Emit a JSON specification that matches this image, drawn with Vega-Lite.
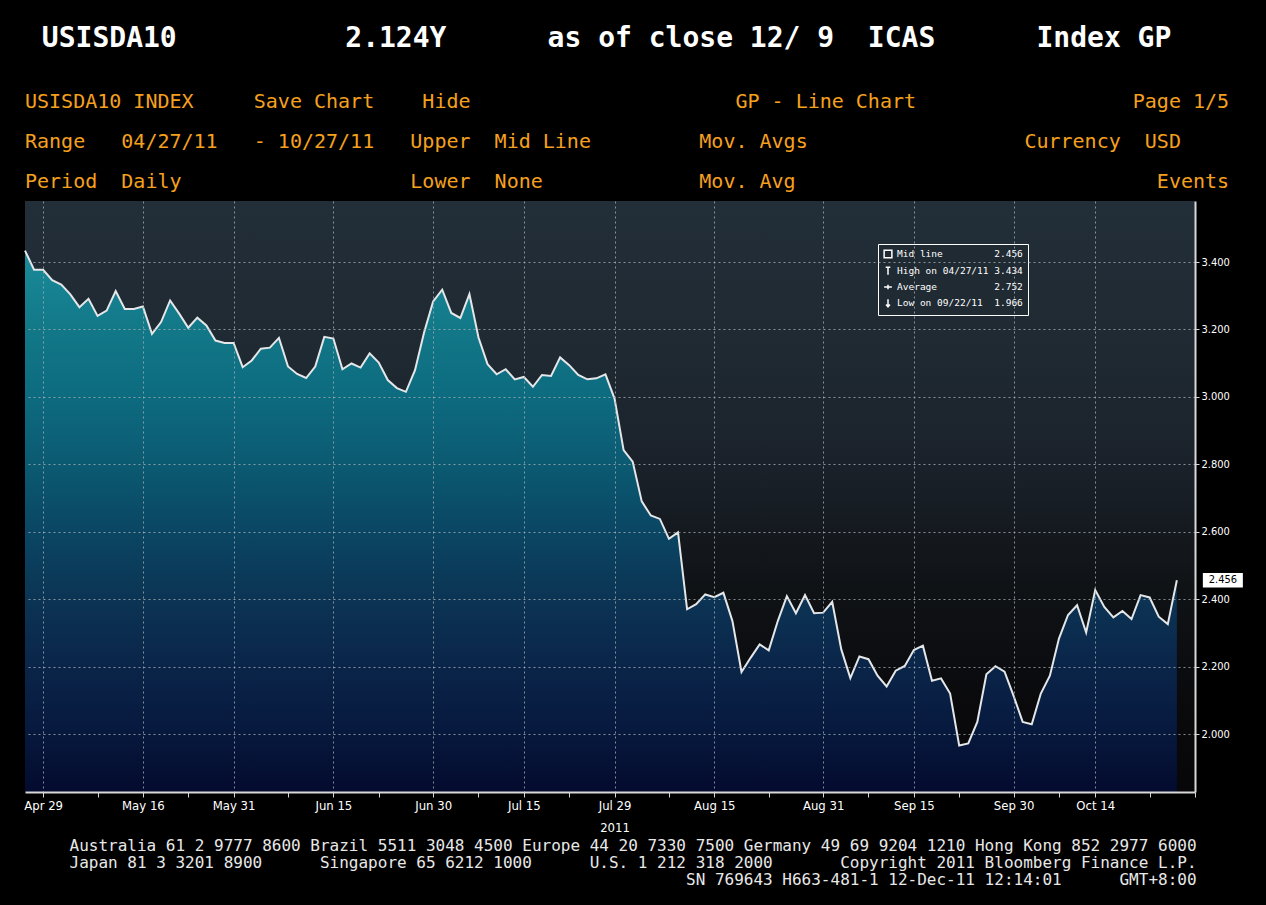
{
  "$schema": "https://vega.github.io/schema/vega-lite/v6.json",
  "autosize": {"type": "none"},
  "width": 1170,
  "height": 591,
  "padding": {"left": 25, "top": 201, "right": 71, "bottom": 113},
  "background": "#000000",
  "title": {
    "text": "\u200b\u00a0USISDA10\u00a0\u00a0\u00a0\u00a0\u00a0\u00a0\u00a0\u00a0\u00a0\u00a02.124Y\u00a0\u00a0\u00a0\u00a0\u00a0\u00a0as of close 12/\u00a09\u00a0\u00a0ICAS\u00a0\u00a0\u00a0\u00a0\u00a0\u00a0Index GP",
    "subtitle": [
      "USISDA10 INDEX\u00a0\u00a0\u00a0\u00a0\u00a0Save Chart\u00a0\u00a0\u00a0\u00a0Hide\u00a0\u00a0\u00a0\u00a0\u00a0\u00a0\u00a0\u00a0\u00a0\u00a0\u00a0\u00a0\u00a0\u00a0\u00a0\u00a0\u00a0\u00a0\u00a0\u00a0\u00a0\u00a0GP - Line Chart\u00a0\u00a0\u00a0\u00a0\u00a0\u00a0\u00a0\u00a0\u00a0\u00a0\u00a0\u00a0\u00a0\u00a0\u00a0\u00a0\u00a0\u00a0Page 1/5",
      "Range\u00a0\u00a0\u00a004/27/11\u00a0\u00a0\u00a0-\u00a010/27/11\u00a0\u00a0\u00a0Upper\u00a0\u00a0Mid Line\u00a0\u00a0\u00a0\u00a0\u00a0\u00a0\u00a0\u00a0\u00a0Mov. Avgs\u00a0\u00a0\u00a0\u00a0\u00a0\u00a0\u00a0\u00a0\u00a0\u00a0\u00a0\u00a0\u00a0\u00a0\u00a0\u00a0\u00a0\u00a0Currency\u00a0\u00a0USD",
      "Period\u00a0\u00a0Daily\u00a0\u00a0\u00a0\u00a0\u00a0\u00a0\u00a0\u00a0\u00a0\u00a0\u00a0\u00a0\u00a0\u00a0\u00a0\u00a0\u00a0\u00a0\u00a0Lower\u00a0\u00a0None\u00a0\u00a0\u00a0\u00a0\u00a0\u00a0\u00a0\u00a0\u00a0\u00a0\u00a0\u00a0\u00a0Mov. Avg\u00a0\u00a0\u00a0\u00a0\u00a0\u00a0\u00a0\u00a0\u00a0\u00a0\u00a0\u00a0\u00a0\u00a0\u00a0\u00a0\u00a0\u00a0\u00a0\u00a0\u00a0\u00a0\u00a0\u00a0\u00a0\u00a0\u00a0\u00a0\u00a0\u00a0Events"
    ],
    "anchor": "start",
    "frame": "group",
    "color": "#ffffff",
    "font": "DejaVu Sans Mono",
    "fontSize": 28,
    "fontWeight": "bold",
    "subtitleColor": "#f5a01e",
    "subtitleFont": "DejaVu Sans Mono",
    "subtitleFontSize": 20,
    "subtitleLineHeight": 40,
    "subtitlePadding": 39,
    "offset": 9
  },
  "data": {
    "values": [
      {"date": "2011-04-27", "value": 3.434},
      {"date": "2011-04-28", "value": 3.377},
      {"date": "2011-04-29", "value": 3.377},
      {"date": "2011-05-02", "value": 3.346},
      {"date": "2011-05-03", "value": 3.333},
      {"date": "2011-05-04", "value": 3.304},
      {"date": "2011-05-05", "value": 3.266},
      {"date": "2011-05-06", "value": 3.291},
      {"date": "2011-05-09", "value": 3.240},
      {"date": "2011-05-10", "value": 3.256},
      {"date": "2011-05-11", "value": 3.314},
      {"date": "2011-05-12", "value": 3.261},
      {"date": "2011-05-13", "value": 3.261},
      {"date": "2011-05-16", "value": 3.268},
      {"date": "2011-05-17", "value": 3.187},
      {"date": "2011-05-18", "value": 3.222},
      {"date": "2011-05-19", "value": 3.286},
      {"date": "2011-05-20", "value": 3.247},
      {"date": "2011-05-23", "value": 3.205},
      {"date": "2011-05-24", "value": 3.235},
      {"date": "2011-05-25", "value": 3.212},
      {"date": "2011-05-26", "value": 3.167},
      {"date": "2011-05-27", "value": 3.160},
      {"date": "2011-05-31", "value": 3.160},
      {"date": "2011-06-01", "value": 3.088},
      {"date": "2011-06-02", "value": 3.108},
      {"date": "2011-06-03", "value": 3.143},
      {"date": "2011-06-06", "value": 3.146},
      {"date": "2011-06-07", "value": 3.175},
      {"date": "2011-06-08", "value": 3.090},
      {"date": "2011-06-09", "value": 3.068},
      {"date": "2011-06-10", "value": 3.056},
      {"date": "2011-06-13", "value": 3.090},
      {"date": "2011-06-14", "value": 3.178},
      {"date": "2011-06-15", "value": 3.173},
      {"date": "2011-06-16", "value": 3.082},
      {"date": "2011-06-17", "value": 3.099},
      {"date": "2011-06-20", "value": 3.087},
      {"date": "2011-06-21", "value": 3.129},
      {"date": "2011-06-22", "value": 3.102},
      {"date": "2011-06-23", "value": 3.050},
      {"date": "2011-06-24", "value": 3.026},
      {"date": "2011-06-27", "value": 3.015},
      {"date": "2011-06-28", "value": 3.079},
      {"date": "2011-06-29", "value": 3.191},
      {"date": "2011-06-30", "value": 3.283},
      {"date": "2011-07-01", "value": 3.318},
      {"date": "2011-07-05", "value": 3.249},
      {"date": "2011-07-06", "value": 3.234},
      {"date": "2011-07-07", "value": 3.305},
      {"date": "2011-07-08", "value": 3.176},
      {"date": "2011-07-11", "value": 3.097},
      {"date": "2011-07-12", "value": 3.067},
      {"date": "2011-07-13", "value": 3.082},
      {"date": "2011-07-14", "value": 3.052},
      {"date": "2011-07-15", "value": 3.059},
      {"date": "2011-07-18", "value": 3.030},
      {"date": "2011-07-19", "value": 3.065},
      {"date": "2011-07-20", "value": 3.062},
      {"date": "2011-07-21", "value": 3.117},
      {"date": "2011-07-22", "value": 3.094},
      {"date": "2011-07-25", "value": 3.065},
      {"date": "2011-07-26", "value": 3.052},
      {"date": "2011-07-27", "value": 3.055},
      {"date": "2011-07-28", "value": 3.067},
      {"date": "2011-07-29", "value": 2.995},
      {"date": "2011-08-01", "value": 2.842},
      {"date": "2011-08-02", "value": 2.808},
      {"date": "2011-08-03", "value": 2.690},
      {"date": "2011-08-04", "value": 2.648},
      {"date": "2011-08-05", "value": 2.638},
      {"date": "2011-08-08", "value": 2.579},
      {"date": "2011-08-09", "value": 2.598},
      {"date": "2011-08-10", "value": 2.370},
      {"date": "2011-08-11", "value": 2.385},
      {"date": "2011-08-12", "value": 2.414},
      {"date": "2011-08-15", "value": 2.406},
      {"date": "2011-08-16", "value": 2.419},
      {"date": "2011-08-17", "value": 2.335},
      {"date": "2011-08-18", "value": 2.184},
      {"date": "2011-08-19", "value": 2.226},
      {"date": "2011-08-22", "value": 2.266},
      {"date": "2011-08-23", "value": 2.248},
      {"date": "2011-08-24", "value": 2.335},
      {"date": "2011-08-25", "value": 2.409},
      {"date": "2011-08-26", "value": 2.358},
      {"date": "2011-08-29", "value": 2.412},
      {"date": "2011-08-30", "value": 2.358},
      {"date": "2011-08-31", "value": 2.360},
      {"date": "2011-09-01", "value": 2.392},
      {"date": "2011-09-02", "value": 2.251},
      {"date": "2011-09-06", "value": 2.166},
      {"date": "2011-09-07", "value": 2.230},
      {"date": "2011-09-08", "value": 2.222},
      {"date": "2011-09-09", "value": 2.173},
      {"date": "2011-09-12", "value": 2.141},
      {"date": "2011-09-13", "value": 2.188},
      {"date": "2011-09-14", "value": 2.202},
      {"date": "2011-09-15", "value": 2.249},
      {"date": "2011-09-16", "value": 2.262},
      {"date": "2011-09-19", "value": 2.158},
      {"date": "2011-09-20", "value": 2.165},
      {"date": "2011-09-21", "value": 2.120},
      {"date": "2011-09-22", "value": 1.966},
      {"date": "2011-09-23", "value": 1.972},
      {"date": "2011-09-26", "value": 2.036},
      {"date": "2011-09-27", "value": 2.177},
      {"date": "2011-09-28", "value": 2.201},
      {"date": "2011-09-29", "value": 2.185},
      {"date": "2011-09-30", "value": 2.113},
      {"date": "2011-10-03", "value": 2.036},
      {"date": "2011-10-04", "value": 2.029},
      {"date": "2011-10-05", "value": 2.120},
      {"date": "2011-10-06", "value": 2.173},
      {"date": "2011-10-07", "value": 2.283},
      {"date": "2011-10-11", "value": 2.353},
      {"date": "2011-10-12", "value": 2.382},
      {"date": "2011-10-13", "value": 2.301},
      {"date": "2011-10-14", "value": 2.427},
      {"date": "2011-10-17", "value": 2.377},
      {"date": "2011-10-18", "value": 2.346},
      {"date": "2011-10-19", "value": 2.365},
      {"date": "2011-10-20", "value": 2.341},
      {"date": "2011-10-21", "value": 2.412},
      {"date": "2011-10-24", "value": 2.405},
      {"date": "2011-10-25", "value": 2.348},
      {"date": "2011-10-26", "value": 2.326},
      {"date": "2011-10-27", "value": 2.456}
    ]
  },
  "layer": [
    {
      "data": {"values": [{}]},
      "mark": {
        "type": "rect",
        "fill": {
          "gradient": "linear", "x1": 0, "y1": 0, "x2": 0, "y2": 1,
          "stops": [
            {"offset": 0, "color": "#222e38"},
            {"offset": 0.27, "color": "#1f2932"},
            {"offset": 0.39, "color": "#1c242d"},
            {"offset": 0.5, "color": "#181e26"},
            {"offset": 0.59, "color": "#13171b"},
            {"offset": 0.65, "color": "#101316"},
            {"offset": 0.73, "color": "#0d0f12"},
            {"offset": 0.85, "color": "#0a0a0d"},
            {"offset": 1, "color": "#07070a"}
          ]
        }
      },
      "encoding": {}
    },
    {
      "mark": {
        "type": "area",
        "interpolate": "linear",
        "fillOpacity": 1,
        "fill": {
          "gradient": "linear", "x1": 0, "y1": 0, "x2": 0, "y2": 1,
          "stops": [
            {"offset": 0, "color": "#1a8b9a"},
            {"offset": 0.146, "color": "#127888"},
            {"offset": 0.271, "color": "#0d6b7f"},
            {"offset": 0.395, "color": "#0b5a72"},
            {"offset": 0.52, "color": "#0a4663"},
            {"offset": 0.644, "color": "#0c3454"},
            {"offset": 0.768, "color": "#0a2549"},
            {"offset": 0.893, "color": "#07183d"},
            {"offset": 1, "color": "#030b2e"}
          ]
        },
        "line": {"color": "#e4e6e8", "strokeWidth": 2}
      },
      "encoding": {
        "x": {
          "field": "date",
          "type": "ordinal",
          "sort": "ascending",
          "scale": {"type": "point", "padding": 0, "domain": {"unionWith": ["2011-10-28", "2011-10-31"]}},
          "axis": {
            "values": ["2011-04-29", "2011-05-09", "2011-05-16", "2011-05-23", "2011-05-31", "2011-06-08", "2011-06-15", "2011-06-22", "2011-06-30", "2011-07-08", "2011-07-15", "2011-07-22", "2011-07-29", "2011-08-08", "2011-08-15", "2011-08-23", "2011-08-31", "2011-09-08", "2011-09-15", "2011-09-22", "2011-09-30", "2011-10-07", "2011-10-14", "2011-10-24", "2011-10-31"],
            "labelExpr": "datum.value == '2011-07-29' ? ['Jul 29', '2011'] : (indexof(['2011-04-29','2011-05-16','2011-05-31','2011-06-15','2011-06-30','2011-07-15','2011-08-15','2011-08-31','2011-09-15','2011-09-30','2011-10-14'], datum.value) >= 0 ? utcFormat(toDate(datum.value), '%b %d') : '')",
            "labelAngle": 0,
            "labelColor": "#ffffff",
            "labelFont": "DejaVu Sans Condensed, Liberation Sans Narrow, Roboto, sans-serif",
            "labelFontSize": 13,
            "labelPadding": 2,
            "labelLineHeight": 22,
            "labelBaseline": "top",
            "tickSize": 5,
            "tickColor": "#d8d8d8",
            "domainColor": "#d8d8d8",
            "domainWidth": 2,
            "grid": true,
            "gridColor": "#a3acb3",
            "gridDash": [2, 3],
            "gridWidth": 1,
            "gridOpacity": {"condition": {"test": "indexof(['2011-04-29','2011-05-16','2011-05-31','2011-06-15','2011-06-30','2011-07-15','2011-07-29','2011-08-15','2011-08-31','2011-09-15','2011-09-30','2011-10-14'], datum.value) >= 0", "value": 0.8}, "value": 0},
            "zindex": 1,
            "title": [
              "Australia 61 2 9777 8600 Brazil 5511 3048 4500 Europe 44 20 7330 7500 Germany 49 69 9204 1210 Hong Kong 852 2977 6000",
              "Japan 81 3 3201 8900\u00a0\u00a0\u00a0\u00a0\u00a0\u00a0Singapore 65 6212 1000\u00a0\u00a0\u00a0\u00a0\u00a0\u00a0U.S. 1 212 318 2000\u00a0\u00a0\u00a0\u00a0\u00a0\u00a0\u00a0Copyright 2011 Bloomberg Finance L.P.",
              "\u200b\u00a0\u00a0\u00a0\u00a0\u00a0\u00a0\u00a0\u00a0\u00a0\u00a0\u00a0\u00a0\u00a0\u00a0\u00a0\u00a0\u00a0\u00a0\u00a0\u00a0\u00a0\u00a0\u00a0\u00a0\u00a0\u00a0\u00a0\u00a0\u00a0\u00a0\u00a0\u00a0\u00a0\u00a0\u00a0\u00a0\u00a0\u00a0\u00a0\u00a0\u00a0\u00a0\u00a0\u00a0\u00a0\u00a0\u00a0\u00a0\u00a0\u00a0\u00a0\u00a0\u00a0\u00a0\u00a0\u00a0\u00a0\u00a0\u00a0\u00a0\u00a0\u00a0\u00a0\u00a0SN 769643 H663-481-1 12-Dec-11 12:14:01\u00a0\u00a0\u00a0\u00a0\u00a0\u00a0GMT+8:00"
            ],
            "titleFont": "DejaVu Sans Mono",
            "titleFontSize": 16,
            "titleFontWeight": "normal",
            "titleColor": "#e8e8e8",
            "titleAnchor": "start",
            "titleAlign": "left",
            "titleBaseline": "top",
            "titleX": 44,
            "titlePadding": 3,
            "titleLineHeight": 17
          }
        },
        "y": {
          "field": "value",
          "type": "quantitative",
          "scale": {"domain": [1.828, 3.581], "zero": false, "nice": false},
          "axis": {
            "orient": "right",
            "values": [2.0, 2.2, 2.4, 2.6, 2.8, 3.0, 3.2, 3.4],
            "format": ".3f",
            "labelOverlap": false,
            "labelColor": "#ffffff",
            "labelFont": "DejaVu Sans Condensed, Liberation Sans Narrow, Roboto, sans-serif",
            "labelFontSize": 11,
            "labelPadding": 2,
            "tickSize": 4,
            "tickColor": "#d8d8d8",
            "domainColor": "#d8d8d8",
            "domainWidth": 2,
            "grid": true,
            "gridColor": "#a3acb3",
            "gridDash": [2, 3],
            "gridWidth": 1,
            "gridOpacity": 0.8,
            "zindex": 1,
            "title": null
          }
        },
        "y2": {"datum": 1.828}
      }
    },
    {
      "transform": [{"filter": "datum.date == '2011-10-27'"}],
      "mark": {"type": "point", "shape": "M-1,-0.36H1V0.36H-1Z", "size": 1600, "filled": true, "color": "#ffffff", "opacity": 1, "xOffset": 46},
      "encoding": {
        "x": {"field": "date", "type": "ordinal"},
        "y": {"field": "value", "type": "quantitative"}
      }
    },
    {
      "transform": [{"filter": "datum.date == '2011-10-27'"}],
      "mark": {"type": "text", "color": "#000000", "fontSize": 11, "font": "DejaVu Sans Condensed, Liberation Sans Narrow, Roboto, sans-serif", "xOffset": 46},
      "encoding": {
        "x": {"field": "date", "type": "ordinal"},
        "y": {"field": "value", "type": "quantitative"},
        "text": {"field": "value", "type": "quantitative", "format": ".3f"}
      }
    },
    {
      "data": {
        "values": [
          {"label": "Mid line\u00a0\u00a0\u00a0\u00a0\u00a0\u00a0\u00a0\u00a0\u00a02.456", "value": 2.456},
          {"label": "High on 04/27/11\u00a03.434", "value": 3.434},
          {"label": "Average\u00a0\u00a0\u00a0\u00a0\u00a0\u00a0\u00a0\u00a0\u00a0\u00a02.752", "value": 2.752},
          {"label": "Low on 09/22/11\u00a0\u00a01.966", "value": 1.966}
        ]
      },
      "mark": {"type": "point", "opacity": 0},
      "encoding": {
        "shape": {
          "field": "label",
          "type": "nominal",
          "sort": null,
          "scale": {"range": ["square", "M-0.6,-1H0.6M0,-1V1", "M-1,0H1M0,-0.6V0.6", "M0,-1V1M-0.5,0.4L0,1L0.5,0.4"]},
          "legend": {
            "title": null,
            "orient": "none",
            "legendX": 853,
            "legendY": 43,
            "fillColor": "#1f2a33",
            "strokeColor": "#ffffff",
            "padding": 5,
            "rowPadding": 3,
            "symbolSize": 60,
            "symbolOpacity": 1,
            "symbolFillColor": "#ffffff",
            "symbolStrokeColor": "#ffffff",
            "symbolStrokeWidth": 1.5,
            "labelColor": "#ffffff",
            "labelFont": "DejaVu Sans Mono",
            "labelFontSize": 9.5,
            "labelOffset": 4
          }
        }
      }
    }
  ],
  "config": {
    "view": {"stroke": null}
  }
}
